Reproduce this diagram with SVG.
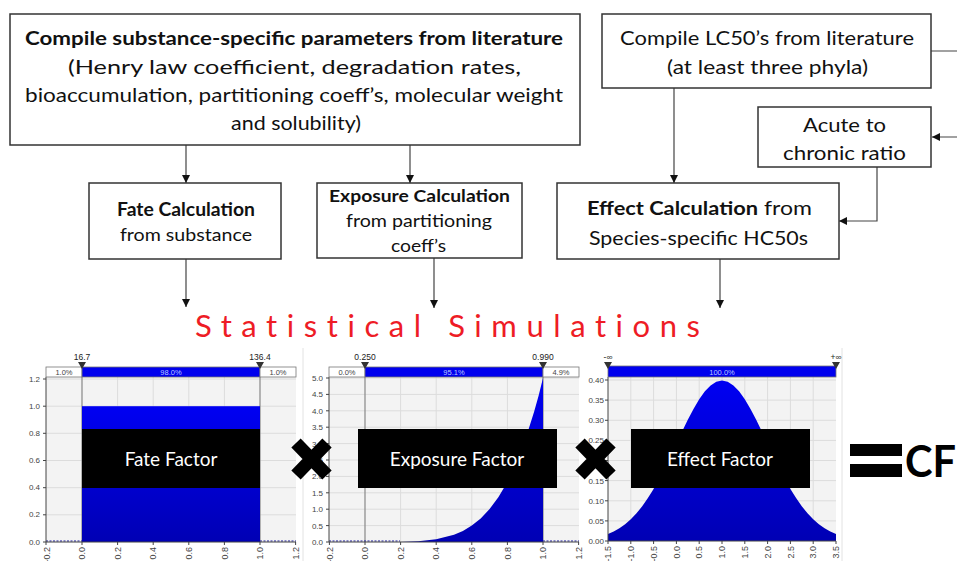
<svg xmlns="http://www.w3.org/2000/svg" width="957" height="561" viewBox="0 0 957 561">
<style>
.box{fill:#fff;stroke:#333;stroke-width:1.5}
.t{font-family:Lato,"Open Sans","Liberation Sans",sans-serif;font-size:19px;fill:#111}
.b{font-weight:bold}
.conn{fill:none;stroke:#444;stroke-width:1.2}
.plot{fill:#f3f3f3}
.grid{stroke:#dcdcdc;stroke-width:1}
.axis{stroke:#444;stroke-width:1;fill:none}
.yl{font-family:"Liberation Sans",Arial,sans-serif;font-size:8px;fill:#444;text-anchor:end}
.xl{font-family:"Liberation Sans",Arial,sans-serif;font-size:9px;fill:#444;text-anchor:end}
.pct{font-family:"Liberation Sans",Arial,sans-serif;font-size:7.5px;fill:#444;text-anchor:middle}
.pctb{font-family:"Liberation Sans",Arial,sans-serif;font-size:7.5px;fill:#b8c8ff;text-anchor:middle}
.mk{font-family:"Liberation Sans",Arial,sans-serif;font-size:8.5px;fill:#222;text-anchor:middle}
.tri{fill:#333}
.barw{fill:#fff;stroke:#777;stroke-width:0.8}
.barb{fill:#0000ee;stroke:#777;stroke-width:0.8}
.fill{fill:url(#bg)}
.dash{stroke:#1a1aa0;stroke-width:1.2;stroke-dasharray:2 1.5}
.mline{stroke:#888;stroke-width:1.2}
.lbl{fill:#000}
.lt{font-family:Lato,"Open Sans","Liberation Sans",sans-serif;font-size:19px;fill:#fff;text-anchor:middle}
.cross{stroke:#000;stroke-width:13}
.panel{stroke:#e2e2e2;stroke-width:1}
</style>
<defs>
<marker id="ah" viewBox="0 0 10 10" refX="10" refY="5" markerWidth="8" markerHeight="8" markerUnits="userSpaceOnUse" orient="auto">
<path d="M0,0 L10,5 L0,10 Z" fill="#111"/>
</marker>
<linearGradient id="bg" x1="0" y1="0" x2="0" y2="1">
<stop offset="0" stop-color="#0000f2"/>
<stop offset="1" stop-color="#0000b4"/>
</linearGradient>
</defs>

<g id="connectors">
<path class="conn" d="M186,145 V183" marker-end="url(#ah)"/>
<path class="conn" d="M410,145 V183" marker-end="url(#ah)"/>
<path class="conn" d="M674,88 V183" marker-end="url(#ah)"/>
<path class="conn" d="M931,51 H964 V137 H932" marker-end="url(#ah)"/>
<path class="conn" d="M877,167 V221 H839" marker-end="url(#ah)"/>
<path class="conn" d="M186,259 V307" marker-end="url(#ah)"/>
<path class="conn" d="M434,258 V308" marker-end="url(#ah)"/>
<path class="conn" d="M720,259 V308" marker-end="url(#ah)"/>
</g>

<g id="node-params">
<rect class="box" x="10" y="14" width="570" height="131"/>
<text class="t b" x="25" y="45" textLength="538" lengthAdjust="spacingAndGlyphs">Compile substance-specific parameters from literature</text>
<text class="t" x="68" y="74" textLength="453" lengthAdjust="spacingAndGlyphs">(Henry law coefficient, degradation rates,</text>
<text class="t" x="25" y="102" textLength="538" lengthAdjust="spacingAndGlyphs">bioaccumulation, partitioning coeff’s, molecular weight</text>
<text class="t" x="231" y="130" textLength="130" lengthAdjust="spacingAndGlyphs">and solubility)</text>
</g>

<g id="node-lc50">
<rect class="box" x="602" y="14" width="329" height="74"/>
<text class="t" x="620" y="45" textLength="294" lengthAdjust="spacingAndGlyphs">Compile LC50’s from literature</text>
<text class="t" x="667" y="74" textLength="201" lengthAdjust="spacingAndGlyphs">(at least three phyla)</text>
</g>

<g id="node-acr">
<rect class="box" x="758" y="107" width="173" height="60"/>
<text class="t" x="803" y="132" textLength="83" lengthAdjust="spacingAndGlyphs">Acute to</text>
<text class="t" x="783" y="160" textLength="123" lengthAdjust="spacingAndGlyphs">chronic ratio</text>
</g>

<g id="node-fate">
<rect class="box" x="89" y="183" width="192" height="76"/>
<text class="t b" x="117" y="216" textLength="138" lengthAdjust="spacingAndGlyphs" style="font-size:18px">Fate Calculation</text>
<text class="t" x="120" y="241" textLength="132" lengthAdjust="spacingAndGlyphs" style="font-size:18px">from substance</text>
</g>

<g id="node-exposure">
<rect class="box" x="317" y="183" width="205" height="75"/>
<text class="t b" x="329" y="202" textLength="181" lengthAdjust="spacingAndGlyphs" style="font-size:17px">Exposure Calculation</text>
<text class="t" x="346" y="227" textLength="146" lengthAdjust="spacingAndGlyphs" style="font-size:17px">from partitioning</text>
<text class="t" x="391" y="252" textLength="55" lengthAdjust="spacingAndGlyphs" style="font-size:17px">coeff’s</text>
</g>

<g id="node-effect">
<rect class="box" x="557" y="183" width="282" height="76"/>
<text class="t b" x="587" y="215" textLength="171" lengthAdjust="spacingAndGlyphs">Effect Calculation</text>
<text class="t" x="764" y="215" textLength="48" lengthAdjust="spacingAndGlyphs">from</text>
<text class="t" x="589" y="245" textLength="219" lengthAdjust="spacingAndGlyphs">Species-specific HC50s</text>
</g>

<g id="title">
<text x="195" y="337" textLength="505" lengthAdjust="spacing" style="font-family:Lato,'Open Sans','Liberation Sans',sans-serif;font-size:31px;fill:#ee1c25;font-variant-ligatures:none">Statistical Simulations</text>
</g>

<g id="panels">
<line class="panel" x1="303" y1="348" x2="303" y2="561"/>
<line class="panel" x1="842" y1="348" x2="842" y2="561"/>
</g>

<!-- Chart 1: Fate -->
<g id="chart-fate">
<rect class="plot" x="46" y="377" width="250" height="165"/>
<g class="grid">
<line x1="46" y1="379" x2="296" y2="379"/><line x1="46" y1="406.2" x2="296" y2="406.2"/><line x1="46" y1="433.3" x2="296" y2="433.3"/><line x1="46" y1="460.5" x2="296" y2="460.5"/><line x1="46" y1="487.7" x2="296" y2="487.7"/><line x1="46" y1="514.8" x2="296" y2="514.8"/>
<line x1="117.6" y1="377" x2="117.6" y2="542"/><line x1="153.2" y1="377" x2="153.2" y2="542"/><line x1="188.8" y1="377" x2="188.8" y2="542"/><line x1="224.4" y1="377" x2="224.4" y2="542"/>
</g>
<line class="mline" x1="82" y1="367" x2="82" y2="542"/>
<line class="mline" x1="260" y1="367" x2="260" y2="542"/>
<rect class="fill" x="82" y="406.2" width="178" height="135.8"/>
<line class="dash" x1="46" y1="541" x2="82" y2="541"/>
<line class="dash" x1="260" y1="541" x2="296" y2="541"/>
<path class="axis" d="M46,377 V542 H296"/>
<path class="axis" d="M43,379 H46 M43,406.2 H46 M43,433.3 H46 M43,460.5 H46 M43,487.7 H46 M43,514.8 H46 M43,542 H46 M46,542 V545 M82,542 V545 M117.6,542 V545 M153.2,542 V545 M188.8,542 V545 M224.4,542 V545 M260,542 V545 M295.6,542 V545"/>
<text class="yl" x="40" y="382">1.2</text><text class="yl" x="40" y="409">1.0</text><text class="yl" x="40" y="436">0.8</text><text class="yl" x="40" y="463">0.6</text><text class="yl" x="40" y="490">0.4</text><text class="yl" x="40" y="517">0.2</text><text class="yl" x="40" y="545">0.0</text>
<text class="xl" transform="translate(49.6,547) rotate(-90)">-0.2</text>
<text class="xl" transform="translate(85.2,547) rotate(-90)">0.0</text>
<text class="xl" transform="translate(120.8,547) rotate(-90)">0.2</text>
<text class="xl" transform="translate(156.4,547) rotate(-90)">0.4</text>
<text class="xl" transform="translate(192,547) rotate(-90)">0.6</text>
<text class="xl" transform="translate(227.6,547) rotate(-90)">0.8</text>
<text class="xl" transform="translate(263.2,547) rotate(-90)">1.0</text>
<text class="xl" transform="translate(298.8,547) rotate(-90)">1.2</text>
<rect class="barw" x="46" y="367" width="36" height="10"/>
<rect class="barb" x="82" y="367" width="178" height="10"/>
<rect class="barw" x="260" y="367" width="36" height="10"/>
<text class="pct" x="64" y="375">1.0%</text>
<text class="pctb" x="171" y="375">98.0%</text>
<text class="pct" x="278" y="375">1.0%</text>
<path class="tri" d="M78,362 H86 L82,369 Z M256,362 H264 L260,369 Z"/>
<text class="mk" x="82" y="360">16.7</text>
<text class="mk" x="260" y="360">136.4</text>
</g>

<!-- Chart 2: Exposure -->
<g id="chart-exposure">
<rect class="plot" x="329" y="377" width="250" height="165"/>
<g class="grid">
<line x1="329" y1="378" x2="579" y2="378"/><line x1="329" y1="394.4" x2="579" y2="394.4"/><line x1="329" y1="410.8" x2="579" y2="410.8"/><line x1="329" y1="427.2" x2="579" y2="427.2"/><line x1="329" y1="443.6" x2="579" y2="443.6"/><line x1="329" y1="460" x2="579" y2="460"/><line x1="329" y1="476.4" x2="579" y2="476.4"/><line x1="329" y1="492.8" x2="579" y2="492.8"/><line x1="329" y1="509.2" x2="579" y2="509.2"/><line x1="329" y1="525.6" x2="579" y2="525.6"/>
<line x1="400.6" y1="377" x2="400.6" y2="542"/><line x1="436.2" y1="377" x2="436.2" y2="542"/><line x1="471.8" y1="377" x2="471.8" y2="542"/><line x1="507.4" y1="377" x2="507.4" y2="542"/>
</g>
<line class="mline" x1="365" y1="367" x2="365" y2="542"/>
<line class="mline" x1="543" y1="367" x2="543" y2="542"/>
<path class="fill" d="M365,542 L400.6,541.9 L418.4,541.3 L436.2,539.3 L454,534.8 L462.9,530.9 L471.8,525.5 L480.7,518.4 L489.6,509.1 L498.5,497.1 L507.4,481.9 L516.3,463.1 L525.2,439.9 L534.1,411.8 L538.6,395.7 L543,378 L543,542 Z"/>
<line class="dash" x1="329" y1="541" x2="400" y2="541"/>
<line class="dash" x1="543" y1="541" x2="579" y2="541"/>
<path class="axis" d="M329,377 V542 H579"/>
<path class="axis" d="M326,378 H329 M326,394.4 H329 M326,410.8 H329 M326,427.2 H329 M326,443.6 H329 M326,460 H329 M326,476.4 H329 M326,492.8 H329 M326,509.2 H329 M326,525.6 H329 M326,542 H329 M329.4,542 V545 M365,542 V545 M400.6,542 V545 M436.2,542 V545 M471.8,542 V545 M507.4,542 V545 M543,542 V545 M578.6,542 V545"/>
<text class="yl" x="323" y="381">5.0</text><text class="yl" x="323" y="397.4">4.5</text><text class="yl" x="323" y="413.8">4.0</text><text class="yl" x="323" y="430.2">3.5</text><text class="yl" x="323" y="446.6">3.0</text><text class="yl" x="323" y="463">2.5</text><text class="yl" x="323" y="479.4">2.0</text><text class="yl" x="323" y="495.8">1.5</text><text class="yl" x="323" y="512.2">1.0</text><text class="yl" x="323" y="528.6">0.5</text><text class="yl" x="323" y="545">0.0</text>
<text class="xl" transform="translate(332.6,547) rotate(-90)">-0.2</text>
<text class="xl" transform="translate(368.2,547) rotate(-90)">0.0</text>
<text class="xl" transform="translate(403.8,547) rotate(-90)">0.2</text>
<text class="xl" transform="translate(439.4,547) rotate(-90)">0.4</text>
<text class="xl" transform="translate(475,547) rotate(-90)">0.6</text>
<text class="xl" transform="translate(510.6,547) rotate(-90)">0.8</text>
<text class="xl" transform="translate(546.2,547) rotate(-90)">1.0</text>
<text class="xl" transform="translate(581.8,547) rotate(-90)">1.2</text>
<rect class="barw" x="329" y="367" width="36" height="10"/>
<rect class="barb" x="365" y="367" width="178" height="10"/>
<rect class="barw" x="543" y="367" width="36" height="10"/>
<text class="pct" x="347" y="375">0.0%</text>
<text class="pctb" x="454" y="375">95.1%</text>
<text class="pct" x="561" y="375">4.9%</text>
<path class="tri" d="M361,362 H369 L365,369 Z M539,362 H547 L543,369 Z"/>
<text class="mk" x="365" y="360">0.250</text>
<text class="mk" x="543" y="360">0.990</text>
</g>

<!-- Chart 3: Effect -->
<g id="chart-effect">
<rect class="plot" x="608" y="377" width="228" height="164"/>
<g class="grid">
<line x1="608" y1="380" x2="836" y2="380"/><line x1="608" y1="400.1" x2="836" y2="400.1"/><line x1="608" y1="420.3" x2="836" y2="420.3"/><line x1="608" y1="440.4" x2="836" y2="440.4"/><line x1="608" y1="460.5" x2="836" y2="460.5"/><line x1="608" y1="480.6" x2="836" y2="480.6"/><line x1="608" y1="500.8" x2="836" y2="500.8"/><line x1="608" y1="520.9" x2="836" y2="520.9"/>
<line x1="630.8" y1="377" x2="630.8" y2="541"/><line x1="653.6" y1="377" x2="653.6" y2="541"/><line x1="676.4" y1="377" x2="676.4" y2="541"/><line x1="699.2" y1="377" x2="699.2" y2="541"/><line x1="722" y1="377" x2="722" y2="541"/><line x1="744.8" y1="377" x2="744.8" y2="541"/><line x1="767.6" y1="377" x2="767.6" y2="541"/><line x1="790.4" y1="377" x2="790.4" y2="541"/><line x1="813.2" y1="377" x2="813.2" y2="541"/>
</g>
<path class="fill" d="M608,541 L608,533.9 L613.7,531.4 L619.4,528.2 L625.1,524.2 L630.8,519.3 L636.5,513.3 L642.2,506.3 L647.9,498.1 L653.6,488.9 L659.3,478.6 L665,467.5 L670.7,455.7 L676.4,443.6 L682.1,431.5 L687.8,419.8 L693.5,408.9 L699.2,399.3 L704.9,391.3 L710.6,385.4 L716.3,381.7 L722,380.4 L727.7,381.7 L733.4,385.4 L739.1,391.3 L744.8,399.3 L750.5,408.9 L756.2,419.8 L761.9,431.5 L767.6,443.6 L773.3,455.7 L779,467.5 L784.7,478.6 L790.4,488.9 L796.1,498.1 L801.8,506.3 L807.5,513.3 L813.2,519.3 L818.9,524.2 L824.6,528.2 L830.3,531.4 L836,533.9 L836,541 Z"/>
<path class="axis" d="M608,377 V541 H836"/>
<path class="axis" d="M605,380 H608 M605,400.1 H608 M605,420.3 H608 M605,440.4 H608 M605,460.5 H608 M605,480.6 H608 M605,500.8 H608 M605,520.9 H608 M605,541 H608 M608,541 V544 M630.8,541 V544 M653.6,541 V544 M676.4,541 V544 M699.2,541 V544 M722,541 V544 M744.8,541 V544 M767.6,541 V544 M790.4,541 V544 M813.2,541 V544 M836,541 V544"/>
<text class="yl" x="604" y="383">0.40</text><text class="yl" x="604" y="403.1">0.35</text><text class="yl" x="604" y="423.3">0.30</text><text class="yl" x="604" y="443.4">0.25</text><text class="yl" x="604" y="463.5">0.20</text><text class="yl" x="604" y="483.6">0.15</text><text class="yl" x="604" y="503.8">0.10</text><text class="yl" x="604" y="523.9">0.05</text><text class="yl" x="604" y="544">0.00</text>
<text class="xl" transform="translate(611.2,546) rotate(-90)">-1.5</text>
<text class="xl" transform="translate(634,546) rotate(-90)">-1.0</text>
<text class="xl" transform="translate(656.8,546) rotate(-90)">-0.5</text>
<text class="xl" transform="translate(679.6,546) rotate(-90)">0.0</text>
<text class="xl" transform="translate(702.4,546) rotate(-90)">0.5</text>
<text class="xl" transform="translate(725.2,546) rotate(-90)">1.0</text>
<text class="xl" transform="translate(748,546) rotate(-90)">1.5</text>
<text class="xl" transform="translate(770.8,546) rotate(-90)">2.0</text>
<text class="xl" transform="translate(793.6,546) rotate(-90)">2.5</text>
<text class="xl" transform="translate(816.4,546) rotate(-90)">3.0</text>
<text class="xl" transform="translate(839.2,546) rotate(-90)">3.5</text>
<rect class="barb" x="608" y="366" width="228" height="11"/>
<text class="pctb" x="722" y="375">100.0%</text>
<path class="tri" d="M604,362 H612 L608,369 Z M832,362 H840 L836,369 Z"/>
<text class="mk" x="608" y="360">-∞</text>
<text class="mk" x="836" y="360">+∞</text>
</g>

<g id="label-fate">
<rect class="lbl" x="82" y="429" width="178" height="59"/>
<text class="lt" x="171" y="466">Fate Factor</text>
</g>
<g id="label-exposure">
<rect class="lbl" x="358" y="429" width="199" height="59"/>
<text class="lt" x="457" y="466">Exposure Factor</text>
</g>
<g id="label-effect">
<rect class="lbl" x="631" y="429" width="179" height="59"/>
<text class="lt" x="720" y="466">Effect Factor</text>
</g>

<g id="times-1">
<path class="cross" d="M296,443 L327,475 M327,443 L296,475"/>
</g>
<g id="times-2">
<path class="cross" d="M580,443 L611,475 M611,443 L580,475"/>
</g>
<g id="equals-cf">
<rect x="850" y="444" width="52" height="12" fill="#000"/>
<rect x="850" y="464" width="52" height="13" fill="#000"/>
<text x="905" y="477" textLength="51" lengthAdjust="spacingAndGlyphs" style="font-family:Lato,'Open Sans','Liberation Sans',sans-serif;font-size:43px;font-weight:bold;fill:#000">CF</text>
</g>
</svg>
